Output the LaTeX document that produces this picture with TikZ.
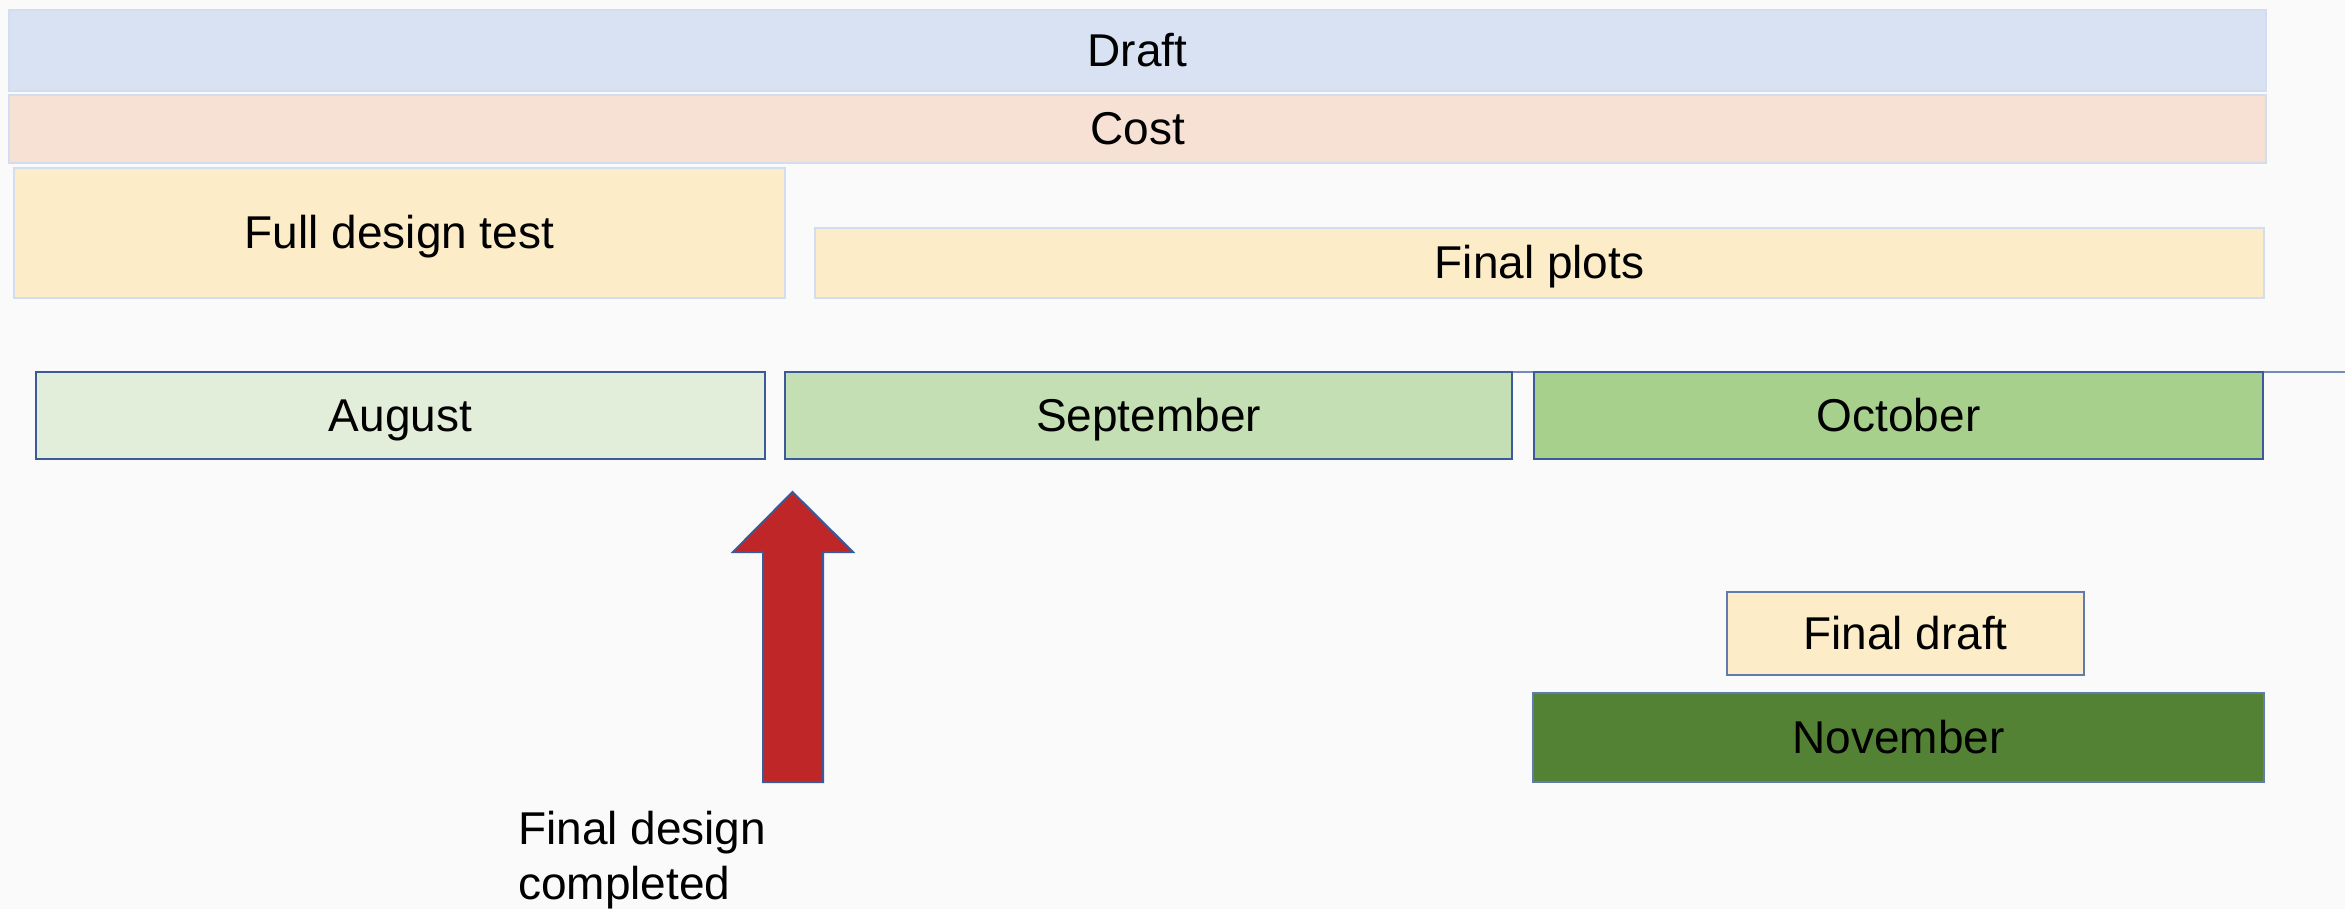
\documentclass[tikz,border=0pt]{standalone}
\usepackage{fontspec}
\setmainfont{Liberation Sans}
\definecolor{bgc}{HTML}{FAFAFA}
\definecolor{draftc}{HTML}{D9E2F2}
\definecolor{costc}{HTML}{F7E1D5}
\definecolor{taskc}{HTML}{FCEDC8}
\definecolor{faintb}{HTML}{D2DDF0}
\definecolor{augc}{HTML}{E2EED9}
\definecolor{sepc}{HTML}{C4DFB3}
\definecolor{octc}{HTML}{A8D08D}
\definecolor{novc}{HTML}{548234}
\definecolor{darkb}{HTML}{3A5A99}
\definecolor{arrowc}{HTML}{BF2627}
\begin{document}
\begin{tikzpicture}[x=1pt,y=-1pt,
  every node/.style={font=\fontsize{46}{55}\selectfont, text=black, inner sep=0pt},
  bar/.style={draw=faintb, line width=2pt, rectangle, text height=32pt, text depth=0pt},
  month/.style={draw=darkb, line width=2.5pt, rectangle, text height=32pt, text depth=0pt}]
\fill[bgc] (0,0) rectangle (2345,909);
\useasboundingbox (0,0) rectangle (2345,909);
\node[bar, fill=draftc, minimum width=2257pt, minimum height=81pt] (draft) at (1137.5,50.5) {Draft};
\node[bar, fill=costc, minimum width=2257pt, minimum height=68pt] (cost) at (1137.5,129) {Cost};
\node[bar, fill=taskc, minimum width=771pt, minimum height=130pt] (fulltest) at (399.5,233) {Full design test};
\node[bar, fill=taskc, minimum width=1449pt, minimum height=70pt] (plots) at (1539.5,263) {Final plots};
\coordinate (redge) at (2345,372);
\draw[color=darkb!70, line width=2pt] (1148.5,372) -- (redge);
\node[month, fill=augc, minimum width=729pt, minimum height=87pt] (aug) at (400.5,415.5) {August};
\node[month, fill=sepc, minimum width=727pt, minimum height=87pt] (sep) at (1148.5,415.5) {September};
\node[month, fill=octc, minimum width=729pt, minimum height=87pt] (oct) at (1898.5,415.5) {October};
\node[month, draw=darkb!80, fill=taskc, minimum width=357pt, minimum height=83pt] (fdraft) at (1905.5,633.5) {Final draft};
\node[month, draw=darkb!80, fill=novc, minimum width=731pt, minimum height=89pt] (nov) at (1898.5,737.5) {November};
\draw[draw=darkb, line width=2pt, fill=arrowc, line join=miter]
  (792.5,492) -- (853,552) -- (823,552) -- (823,782) -- (763,782) -- (763,552) -- (733,552) -- cycle;
\node[anchor=north west, align=left] (done) at (518,811) {Final design\\completed};
\end{tikzpicture}
\end{document}
